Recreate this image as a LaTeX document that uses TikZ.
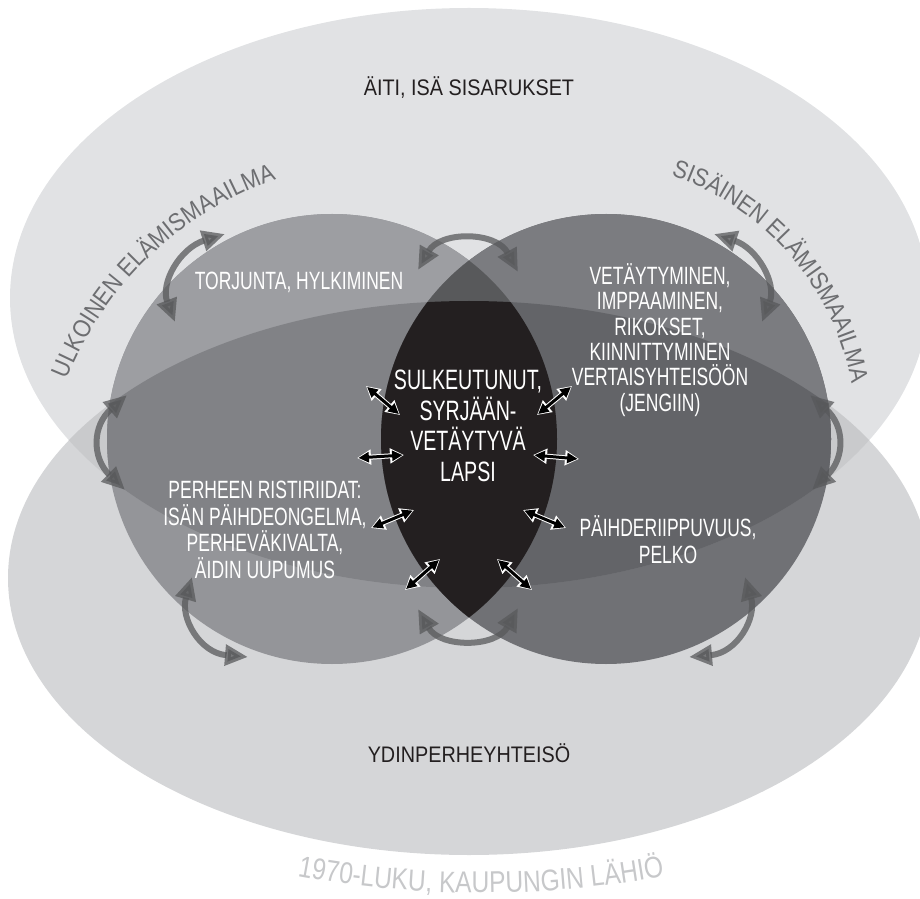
\documentclass[tikz,border=0pt]{standalone}
\usepackage{fontspec}
\setmainfont{Liberation Sans}[FakeStretch=0.70]
\newfontfamily\arcfont{Liberation Sans}[FakeStretch=0.88]
\newfontfamily\farfont{Liberation Sans}[FakeStretch=0.82]
\usetikzlibrary{arrows.meta,decorations.text}

\definecolor{topfill}{HTML}{E1E2E4}
\definecolor{botfill}{HTML}{D5D6D8}
\definecolor{bothfill}{HTML}{C9CACC}
\definecolor{ltop}{HTML}{9D9EA2}
\definecolor{lmid}{HTML}{818286}
\definecolor{lbot}{HTML}{949599}
\definecolor{rtop}{HTML}{7B7C80}
\definecolor{rmid}{HTML}{636468}
\definecolor{rbot}{HTML}{707175}
\definecolor{lenstop}{HTML}{58595B}
\definecolor{lensfill}{HTML}{231F20}
\definecolor{arcgray}{HTML}{6D6E71}
\definecolor{farlabel}{HTML}{C7C8CA}
\definecolor{arrowgray}{HTML}{58595B}

\newcommand{\TopEll}{(469,600) ellipse [x radius=459, y radius=290]}
\newcommand{\BotEll}{(469,320) ellipse [x radius=461, y radius=277]}
\newcommand{\LeftC}{(332,459) circle [radius=225]}
\newcommand{\RightC}{(606,459) circle [radius=225]}

\tikzset{
  lbl/.style={text=white, align=center, font=\fontsize{25}{25.4}\selectfont},
  midlbl/.style={text=white, align=center, font=\fontsize{28}{30.7}\selectfont},
  darklbl/.style={text=lensfill, font=\arcfont\fontsize{22.5}{27}\selectfont},
  garrow/.style={draw=arrowgray, opacity=.75, line width=6pt,
    {Triangle[length=23pt,width=20pt]}-{Triangle[length=23pt,width=20pt]}},
  warrow/.style={black, line width=3pt, shorten <=1.4pt, shorten >=1.4pt,
    {Triangle[length=10.5pt,width=10pt]}-{Triangle[length=10.5pt,width=10pt]},
    preaction={draw=white, line width=5pt, shorten <=0pt, shorten >=0pt,
      {Triangle[length=14pt,width=14.5pt]}-{Triangle[length=14pt,width=14.5pt]}}},
}

\begin{document}
\begin{tikzpicture}[x=1pt,y=1pt]
  \useasboundingbox (0,0) rectangle (920,898);

  % the two big fields
  \fill[topfill] \TopEll;
  \fill[botfill] \BotEll;
  \begin{scope}
    \clip \TopEll;
    \fill[bothfill] \BotEll;
  \end{scope}

  % outer world (left)
  \fill[lbot] \LeftC;
  \begin{scope}
    \clip \LeftC;
    \fill[ltop] \TopEll;
    \clip \TopEll;
    \fill[lmid] \BotEll;
  \end{scope}

  % inner world (right)
  \fill[rbot] \RightC;
  \begin{scope}
    \clip \RightC;
    \fill[rtop] \TopEll;
    \clip \TopEll;
    \fill[rmid] \BotEll;
  \end{scope}

  % the child
  \begin{scope}
    \clip \LeftC;
    \fill[lenstop] \RightC;
    \clip \RightC;
    \fill[lensfill] \BotEll;
  \end{scope}

  % labels
  \node[darklbl] (koti) at (469,810) {ÄITI, ISÄ SISARUKSET};
  \node[darklbl] (perhe) at (469,145) {YDINPERHEYHTEISÖ};
  \node[lbl] (torj) at (299,616) {TORJUNTA, HYLKIMINEN};
  \node[lbl] (veta) at (660,558) {VETÄYTYMINEN,\\IMPPAAMINEN,\\RIKOKSET,\\KIINNITTYMINEN\\VERTAISYHTEISÖÖN\\(JENGIIN)};
  \node[lbl, font=\fontsize{25}{26.7}\selectfont] (risti) at (265,368) {PERHEEN RISTIRIIDAT:\\ISÄN PÄIHDEONGELMA,\\PERHEVÄKIVALTA,\\ÄIDIN UUPUMUS};
  \node[lbl, font=\fontsize{25}{27}\selectfont] (paihde) at (668,358) {PÄIHDERIIPPUVUUS,\\PELKO};
  \node[midlbl] (lapsi) at (468,472) {SULKEUTUNUT,\\SYRJÄÄN-\\VETÄYTYVÄ\\LAPSI};

  % curved titles
  \path[decorate, decoration={text along path, text align=center, text color=arcgray,
    text={|\arcfont\fontsize{25}{30}\selectfont|ULKOINEN ELÄMISMAAILMA}}]
    (391,389) ++(165:349) arc[start angle=165, end angle=102.4, radius=349];
  \path[decorate, decoration={text along path, text align=center, text color=arcgray,
    text={|\arcfont\fontsize{25}{30}\selectfont|SISÄINEN ELÄMISMAAILMA}}]
    (586,466) ++(84.5:270) arc[start angle=84.5, end angle=-2.5, radius=270];
  \path[decorate, decoration={text along path, text align=center, text color=farlabel,
    text={|\farfont\fontsize{30}{34}\selectfont|1970-LUKU{,} KAUPUNGIN LÄHIÖ}}]
    (481,1005) ++(255:1000) arc[start angle=255, end angle=285, radius=1000];

  % arrow ends
  \coordinate (ulkoA) at (175,576);
  \coordinate (ulkoB) at (225,664);
  \coordinate (ulkoC) at (125,408);
  \coordinate (ulkoD) at (127,503);
  \coordinate (ulkoE) at (192,321);
  \coordinate (ulkoF) at (248,241);
  \coordinate (alaA) at (418,289);
  \coordinate (alaB) at (518,290);
  \coordinate (ylaA) at (418,628);
  \coordinate (ylaB) at (518,626);
  \coordinate (sisaA) at (762,576);
  \coordinate (sisaB) at (714,664);
  \coordinate (sisaC) at (812,408);
  \coordinate (sisaD) at (810,503);
  \coordinate (sisaE) at (745,321);
  \coordinate (sisaF) at (689,241);

  \draw[garrow] (ulkoA) .. controls (160,615) and (180,650) .. (ulkoB);
  \draw[garrow] (ulkoC) .. controls (92,440) and (92,472) .. (ulkoD);
  \draw[garrow] (ulkoE) .. controls (180,280) and (200,245) .. (ulkoF);
  \draw[garrow] (alaA) .. controls (440,250) and (496,250) .. (alaB);
  \draw[garrow] (ylaA) .. controls (440,667) and (496,667) .. (ylaB);
  \draw[garrow] (sisaA) .. controls (777,615) and (757,650) .. (sisaB);
  \draw[garrow] (sisaC) .. controls (845,440) and (845,472) .. (sisaD);
  \draw[garrow] (sisaE) .. controls (757,280) and (737,245) .. (sisaF);

  % child arrows
  \coordinate (la1) at (366,512);
  \coordinate (la2) at (400,483);
  \coordinate (lb1) at (537,483);
  \coordinate (lb2) at (572,512);
  \coordinate (lc1) at (357,440);
  \coordinate (lc2) at (404,443);
  \coordinate (ld1) at (533,443);
  \coordinate (ld2) at (579,439);
  \coordinate (le1) at (371,370);
  \coordinate (le2) at (414,388);
  \coordinate (lf1) at (523,388);
  \coordinate (lf2) at (566,370);
  \coordinate (lg1) at (405,308);
  \coordinate (lg2) at (440,339);
  \coordinate (lh1) at (497,339);
  \coordinate (lh2) at (532,308);

  \draw[warrow] (la1) -- (la2);
  \draw[warrow] (lb1) -- (lb2);
  \draw[warrow] (lc1) -- (lc2);
  \draw[warrow] (ld1) -- (ld2);
  \draw[warrow] (le1) -- (le2);
  \draw[warrow] (lf1) -- (lf2);
  \draw[warrow] (lg1) -- (lg2);
  \draw[warrow] (lh1) -- (lh2);
\end{tikzpicture}
\end{document}
